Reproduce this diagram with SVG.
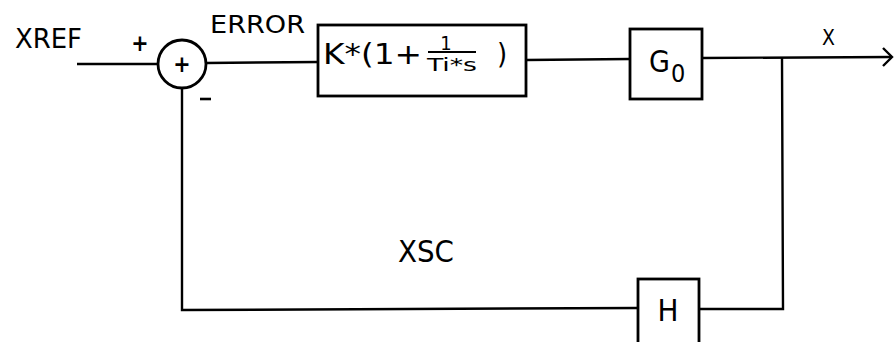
<svg xmlns="http://www.w3.org/2000/svg" width="894" height="342" viewBox="0 0 894 342">
<style>
.t{font-family:"DejaVu Sans Condensed","DejaVu Sans","Liberation Sans",sans-serif;fill:#000}
.ln{fill:none;stroke:#000;stroke-width:2.4}
.bx{fill:#fff;stroke:#000;stroke-width:2.8}
</style>
<rect width="894" height="342" fill="#fff"/>
<g id="connectors">
<line class="ln" x1="77" y1="64" x2="158" y2="64"/>
<line class="ln" x1="206" y1="63" x2="318" y2="62"/>
<line class="ln" x1="526" y1="60" x2="630" y2="59"/>
<line class="ln" x1="702" y1="58" x2="892" y2="57"/>
<polyline class="ln" points="883,48 892,57 883,66"/>
<polyline class="ln" points="782,58 783,309 699,309"/>
<polyline class="ln" points="638,308 182,310 182,88"/>
</g>
<g id="labels">
<text class="t" x="15" y="48" font-size="27" textLength="67" lengthAdjust="spacingAndGlyphs">XREF</text>
<text class="t" x="210" y="33" font-size="25" textLength="95" lengthAdjust="spacingAndGlyphs">ERROR</text>
<text class="t" x="822" y="45" font-size="21">X</text>
<text class="t" x="398" y="262" font-size="30" textLength="56" lengthAdjust="spacingAndGlyphs">XSC</text>
<text class="t" x="140" y="51" font-size="23" text-anchor="middle" font-weight="bold">+</text>
<line x1="200" y1="99" x2="211" y2="99" stroke="#000" stroke-width="2.6"/>
</g>
<g id="sum">
<circle cx="182" cy="64" r="24" class="bx"/>
<text class="t" x="182" y="72" font-size="23" text-anchor="middle" font-weight="bold">+</text>
</g>
<g id="controller">
<rect class="bx" x="318" y="25" width="208" height="71"/>
<text class="t" x="323" y="64" font-size="29" textLength="99" lengthAdjust="spacingAndGlyphs">K*(1+</text>
<text class="t" x="446" y="50" font-size="20" text-anchor="middle">1</text>
<line x1="428" y1="52" x2="476" y2="52" stroke="#000" stroke-width="2"/>
<text class="t" x="427" y="71" font-size="18" textLength="50" lengthAdjust="spacingAndGlyphs">Ti*s</text>
<text class="t" x="497" y="64" font-size="29">)</text>
</g>
<g id="plant">
<rect class="bx" x="630" y="29" width="72" height="70"/>
<text class="t" x="649" y="72" font-size="30">G</text>
<text class="t" x="671" y="82" font-size="25">0</text>
</g>
<g id="feedback">
<rect class="bx" x="638" y="279" width="61" height="80"/>
<text class="t" x="668" y="321" font-size="31" text-anchor="middle">H</text>
</g>
</svg>
